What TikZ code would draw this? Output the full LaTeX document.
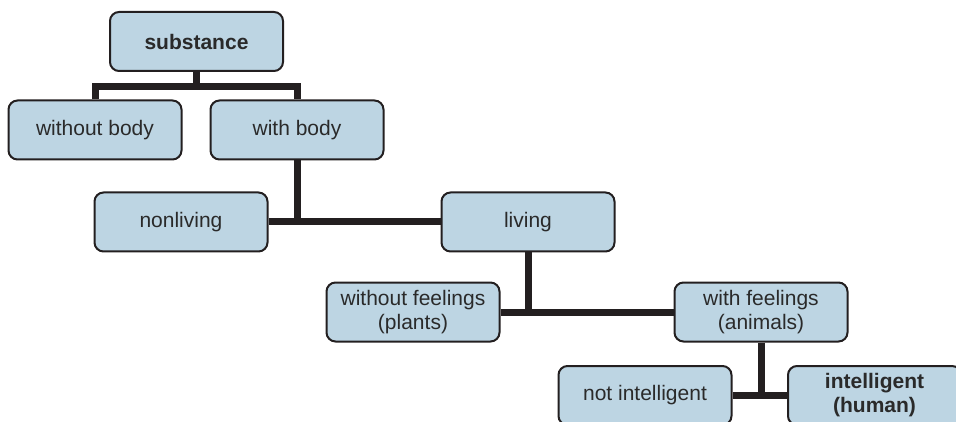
\documentclass[tikz,border=0pt]{standalone}
\usepackage{fontspec}
\setmainfont{Liberation Sans}
\usetikzlibrary{backgrounds}
\definecolor{boxfill}{HTML}{BDD5E3}
\definecolor{boxline}{HTML}{231F20}
\definecolor{txt}{HTML}{2A2A2A}
\begin{document}
\begin{tikzpicture}[x=1pt,y=-1pt,
  box/.style={draw=boxline, line width=2pt, fill=boxfill, rounded corners=9pt,
    minimum width=173pt, minimum height=59pt, inner sep=2pt, align=center,
    font=\fontsize{21}{24}\selectfont, text=txt},
  bbox/.style={box, font=\fontsize{21}{24}\selectfont\bfseries},
  conn/.style={draw=boxline, line width=7pt}]
\useasboundingbox (0,0) rectangle (956,422);
\clip (0,0) rectangle (956,422);
\node[bbox] (sub) at (196.5,41.5) {substance};
\node[box] (wob) at (95,130) {without body};
\node[box] (wib) at (297,130) {with body};
\node[box] (nl) at (181,222) {nonliving};
\node[box] (liv) at (528,222) {living};
\node[box] (wof) at (413,312) {without feelings\\(plants)};
\node[box] (wif) at (761,312) {with feelings\\(animals)};
\node[box] (ni) at (645,395.5) {not intelligent};
\node[bbox] (int) at (874.5,395.5) {intelligent\\(human)};
\coordinate (j1) at (196.5,87);
\begin{scope}[on background layer]
  \draw[conn] (sub.south) -- (j1);
  \draw[conn] (wob.north) |- (j1) -| (wib.north);
  \draw[conn] (wib.south) -- (wib.south |- nl.east);
  \draw[conn] (nl.east) -- (liv.west);
  \draw[conn] (liv.south) -- (liv.south |- wof.east);
  \draw[conn] (wof.east) -- (wif.west);
  \draw[conn] (wif.south) -- (wif.south |- ni.east);
  \draw[conn] (ni.east) -- (int.west);
\end{scope}
\end{tikzpicture}
\end{document}
